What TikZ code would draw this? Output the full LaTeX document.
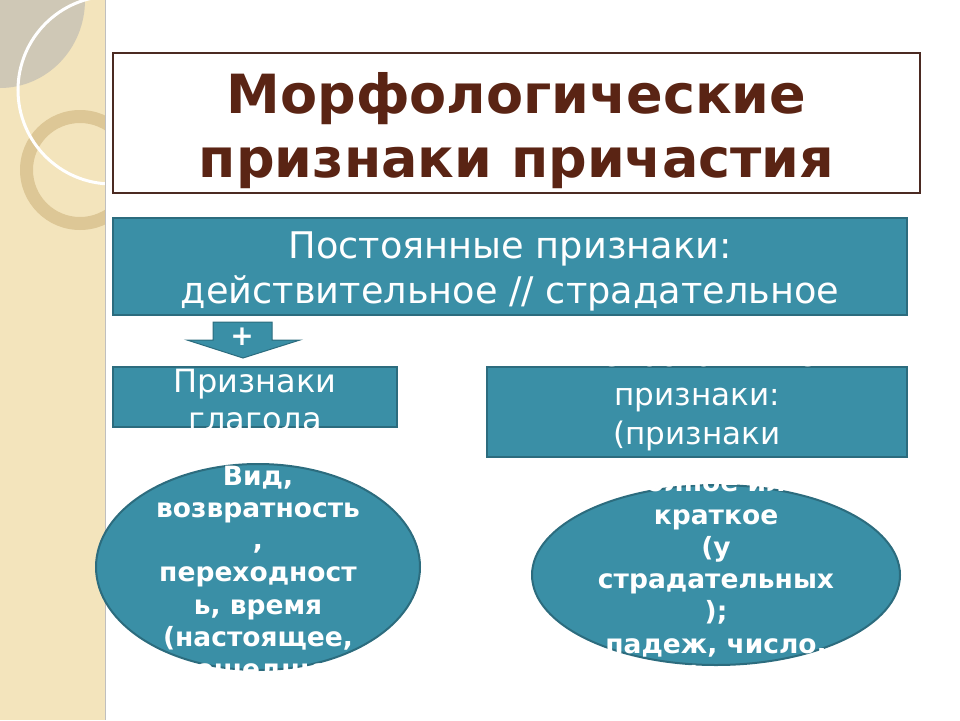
\documentclass[tikz,border=0pt]{standalone}
\usepackage{fontspec}
\setmainfont{DejaVu Sans}
\usetikzlibrary{shapes.geometric}
\definecolor{franja}{HTML}{F3E4BC}
\definecolor{gris}{HTML}{CFC8B6}
\definecolor{anillo}{HTML}{DDC796}
\definecolor{marron}{HTML}{5A2414}
\definecolor{marco}{HTML}{4B2A22}
\definecolor{azul}{HTML}{3A8FA6}
\definecolor{borde}{HTML}{2C6C7E}
\tikzset{
  caja/.style={draw=borde,fill=azul,line width=2.5pt,inner sep=0pt},
  texto/.style={text=white,align=center,inner sep=0pt},
  grande/.style={texto,font=\fontsize{36.7}{45}\selectfont},
  negrita/.style={texto,font=\fontsize{26.5}{32.3}\selectfont\bfseries},
}
\begin{document}
\begin{tikzpicture}[x=1pt,y=-1pt]
\useasboundingbox (0,0) rectangle (960,720);
%
% franja lateral
\fill[franja] (0,0) rectangle (105,720);
\begin{scope}
\clip (0,0) rectangle (105,720);
\fill[gris] (0,0) ellipse[x radius=85,y radius=88];
\fill[anillo,even odd rule] (80,170) circle (60) (80,170) circle (47);
\draw[white,line width=3pt] (112,90) circle (94);
\end{scope}
\draw[gray!50,line width=1.5pt] (105.5,0) -- (105.5,720);
%
% titulo
\node[draw=marco,fill=white,line width=2pt,minimum width=807,minimum height=140] (titulo) at (516.5,123) {};
\node[text=marron,align=center,font=\fontsize{54}{64}\selectfont\bfseries] (tit) at (516.5,131) {Морфологические\\признаки причастия};
%
% cajas
\node[caja,minimum width=794,minimum height=97] (const) at (510,266.5) {};
\node[grande] (tconst) at (510,271) {Постоянные признаки:\\действительное // страдательное};
\node[caja,minimum width=284,minimum height=60] (verbo) at (255,397) {};
\node[grande,font=\fontsize{32}{38}\selectfont] (tverbo) at (255,400) {Признаки\\глагола};
\node[caja,minimum width=420,minimum height=90] (nocon) at (697,412) {};
\node[grande,font=\fontsize{31}{39}\selectfont] (tnocon) at (697,397) {Непостоянные\\признаки:\\(признаки};
%
% flecha
\fill[azul,draw=borde,line width=1pt] (213,322) -- (272,322) -- (272,340) -- (300,340)
  -- (243,358) -- (187,340) -- (213,340) -- cycle;
\node[text=white,font=\fontsize{28}{28}\selectfont\bfseries] (mas) at (242,337) {+};
%
% elipses
\node[caja,ellipse,line width=2pt,minimum width=324,minimum height=206] (izq) at (258,567) {};
\node[negrita] (tizq) at (258,575) {Вид,\\возвратность\\,\\переходност\\ь, время\\(настоящее,\\прошедшее)};
\node[caja,ellipse,line width=2pt,minimum width=368,minimum height=180] (der) at (716,575) {};
\node[negrita] (tder) at (716,584) {полное или\\краткое\\(у\\страдательных\\);\\падеж, число,\\род (в ед.ч.)};
\end{tikzpicture}
\end{document}
